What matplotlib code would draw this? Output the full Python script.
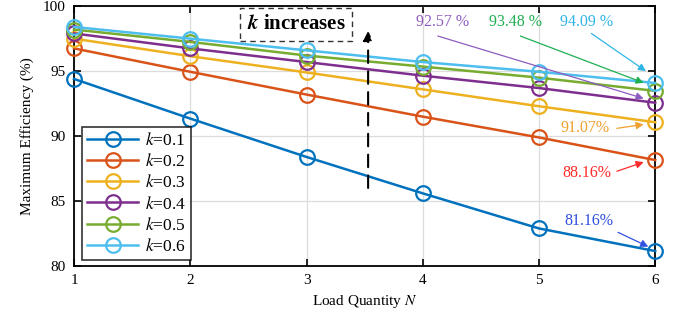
import numpy as np
import matplotlib.pyplot as plt

plt.rcParams['font.family'] = ['Liberation Serif', 'DejaVu Serif']
plt.rcParams['mathtext.fontset'] = 'stix'

# Load quantity and efficiency for each coupling coefficient k
N = [1, 2, 3, 4, 5, 6]
k_vals = ['0.1', '0.2', '0.3', '0.4', '0.5', '0.6']
eff_k01 = [94.4, 91.35, 88.4, 85.6, 82.9, 81.16]
eff_k02 = [96.75, 94.95, 93.2, 91.5, 89.9, 88.16]
eff_k03 = [97.5, 96.15, 94.9, 93.6, 92.3, 91.07]
eff_k04 = [97.9, 96.75, 95.7, 94.65, 93.7, 92.57]
eff_k05 = [98.2, 97.25, 96.2, 95.35, 94.5, 93.48]
eff_k06 = [98.4, 97.5, 96.6, 95.7, 94.95, 94.09]
series = [eff_k01, eff_k02, eff_k03, eff_k04, eff_k05, eff_k06]

colors = ['#0072BD', '#D95319', '#EDB120', '#7E2F8E', '#77AC30', '#4DBEEE']

fig = plt.figure(figsize=(6.79, 3.23), dpi=100)
ax = fig.add_axes([0.109, 0.176, 0.856, 0.805])

for k, y, c in zip(k_vals, series, colors):
    ax.plot(N, y, '-o', color=c, lw=1.8, ms=10.5, mfc='none', mew=1.6,
            label=r'$k$=' + k, clip_on=False, zorder=3)

ax.set_xlim(1, 6)
ax.set_ylim(80, 100)
ax.set_xticks(N)
ax.set_yticks([80, 85, 90, 95, 100])
ax.grid(True, color='#dcdcdc', lw=0.9)
ax.set_axisbelow(True)
ax.tick_params(direction='in', top=True, right=True, length=5, width=1.2,
               labelsize=11, pad=6)
for s in ax.spines.values():
    s.set_linewidth(1.3)
ax.set_xlabel(r'Load Quantity $N$', fontsize=11, labelpad=4)
ax.set_ylabel('Maximum Efficiency (%)', fontsize=11, labelpad=6)

leg = ax.legend(loc='lower left', bbox_to_anchor=(0.008, 0.01), fontsize=12.5,
                frameon=True, fancybox=False, edgecolor='black',
                handlelength=2.9, handletextpad=0.4, borderpad=0.3,
                labelspacing=0.24, borderaxespad=0.2)
leg.get_frame().set_linewidth(1.2)

# k increases arrow and label
ax.annotate('', xy=(3.53, 98.3), xytext=(3.53, 85.8),
            arrowprops=dict(arrowstyle='-|>', color='black', lw=1.5,
                            linestyle=(0, (6, 4)), mutation_scale=14))
ax.text(2.91, 98.6, r'$\mathbfit{k}$ increases', fontsize=15, fontweight='bold',
        ha='center', va='center',
        bbox=dict(boxstyle='square,pad=0.32', fc='white', ec='#333333',
                  ls=(0, (4, 3)), lw=1))

# value callouts at N=6
notes = [
    ('92.57 %', '#8E5CC0', (4.17, 98.75), (4.13, 97.7), (5.90, 92.9)),
    ('93.48 %', '#1FAF50', (4.80, 98.75), (4.84, 97.7), (5.90, 94.1)),
    ('94.09 %', '#2FB4E6', (5.41, 98.75), (5.45, 97.9), (5.92, 95.0)),
    ('91.07%', '#F0A030', (5.40, 90.6), (5.67, 90.6), (5.90, 90.9)),
    ('88.16%', '#FF2A2A', (5.41, 87.15), (5.67, 87.3), (5.90, 88.0)),
    ('81.16%', '#3050E0', (5.43, 83.5), (5.68, 82.6), (5.94, 81.5)),
]
for txt, c, tpos, a0, a1 in notes:
    ax.text(*tpos, txt, color=c, fontsize=11.5, ha='center', va='center')
    ax.annotate('', xy=a1, xytext=a0,
                arrowprops=dict(arrowstyle='-|>', color=c, lw=0.9,
                                mutation_scale=11, shrinkA=0, shrinkB=0))

fig.savefig('out.png', dpi=100)
